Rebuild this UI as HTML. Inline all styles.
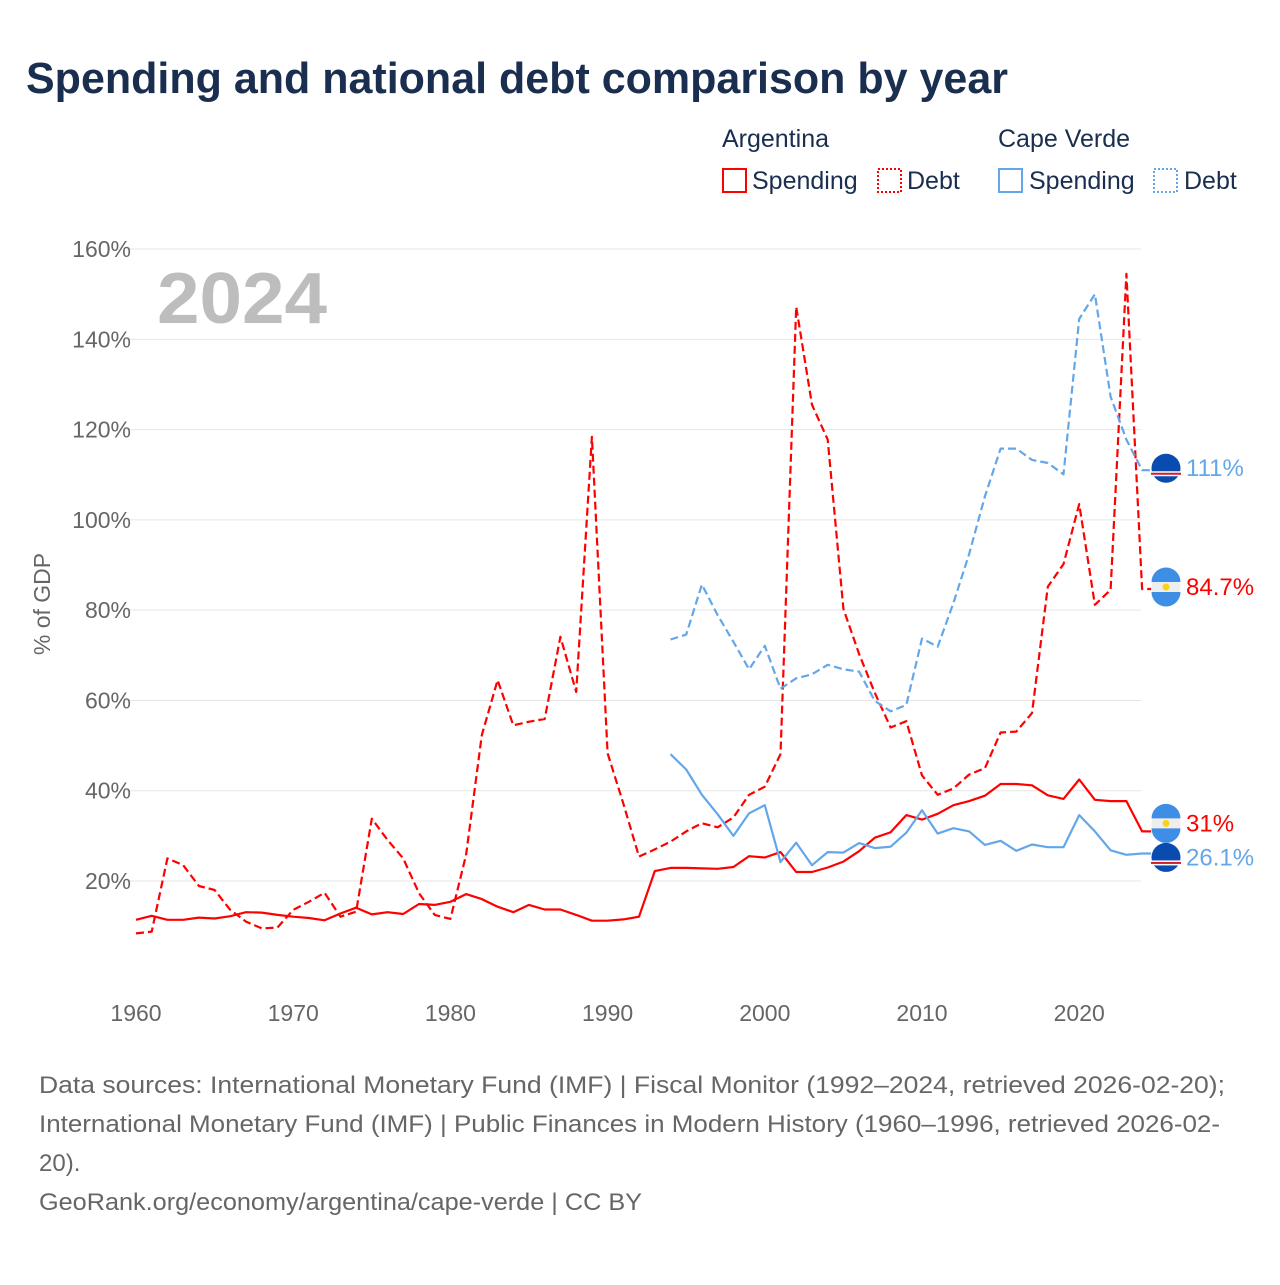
<!DOCTYPE html>
<html><head><meta charset="utf-8">
<style>
body{margin:0;background:#fff;font-family:"Liberation Sans",sans-serif;}
svg text{font-family:"Liberation Sans",sans-serif;}
</style></head>
<body>
<svg id="chart" width="1280" height="1280" xmlns="http://www.w3.org/2000/svg">
<rect width="1280" height="1280" fill="#fff"/>
<text x="26" y="93" font-size="44" font-weight="bold" fill="#1a2e4f" textLength="982" lengthAdjust="spacingAndGlyphs">Spending and national debt comparison by year</text>
<g font-size="25" fill="#1a2e4f">
<text x="722" y="147" fill="#1a2e4f">Argentina</text>
<text x="998" y="147" fill="#1a2e4f">Cape Verde</text>
<g><rect x="723" y="169" width="23" height="23" fill="none" stroke="#ff0000" stroke-width="2"/><text x="752" y="189" fill="#1a2e4f">Spending</text></g>
<g><rect x="878" y="169" width="23" height="23" fill="none" stroke="#ff0000" stroke-width="2" stroke-dasharray="2,2"/><text x="907" y="189" fill="#1a2e4f">Debt</text></g>
<g><rect x="999" y="169" width="23" height="23" fill="none" stroke="#63a7ea" stroke-width="2"/><text x="1029" y="189" fill="#1a2e4f">Spending</text></g>
<g><rect x="1154" y="169" width="23" height="23" fill="none" stroke="#63a7ea" stroke-width="2" stroke-dasharray="2,2"/><text x="1184" y="189" fill="#1a2e4f">Debt</text></g>
</g>
<g id="grid"></g>
<text x="157" y="323" font-size="72" font-weight="bold" fill="#bdbdbd" textLength="170" lengthAdjust="spacingAndGlyphs">2024</text>
<text transform="translate(50,604) rotate(-90)" text-anchor="middle" font-size="23" fill="#666">% of GDP</text>
<g id="series"></g>
<g id="endlabels"></g>
<g font-size="24" fill="#666">
<text x="39" y="1093" textLength="1186" lengthAdjust="spacingAndGlyphs">Data sources: International Monetary Fund (IMF) | Fiscal Monitor (1992–2024, retrieved 2026-02-20);</text>
<text x="39" y="1132" textLength="1181" lengthAdjust="spacingAndGlyphs">International Monetary Fund (IMF) | Public Finances in Modern History (1960–1996, retrieved 2026-02-</text>
<text x="39" y="1171">20).</text>
<text x="39" y="1210" textLength="603" lengthAdjust="spacingAndGlyphs">GeoRank.org/economy/argentina/cape-verde | CC BY</text>
</g>
</svg>
<script>
const yTicks=[20,40,60,80,100,120,140,160];
const xTicks=[1960,1970,1980,1990,2000,2010,2020];
const argYears=[];for(let y=1960;y<=2024;y++)argYears.push(y);
const cvYears=[];for(let y=1994;y<=2024;y++)cvYears.push(y);
const argSpending=[11.4,12.3,11.4,11.4,11.9,11.7,12.2,13.1,13.0,12.5,12.1,11.8,11.3,12.8,14.1,12.6,13.1,12.7,14.9,14.7,15.4,17.1,16.0,14.3,13.1,14.7,13.7,13.7,12.5,11.2,11.2,11.5,12.1,22.2,22.9,22.9,22.8,22.7,23.1,25.5,25.2,26.4,22.0,22.0,23.0,24.3,26.6,29.6,30.8,34.6,33.6,34.9,36.8,37.7,38.9,41.5,41.5,41.2,39.0,38.2,42.5,38.0,37.7,37.7,31.0];
const argDebt=[8.4,8.8,25.0,23.5,18.9,18.0,13.6,11.0,9.5,9.7,13.6,15.4,17.4,12.1,13.2,33.8,29.1,25.0,17.3,12.5,11.6,25.8,52.3,64.5,54.5,55.3,55.9,74.1,61.9,118.4,48.3,37.2,25.4,27.0,28.7,31.0,32.8,31.9,34.1,39.1,40.9,48.1,147.2,125.5,117.8,80.3,70.3,61.7,54.0,55.4,43.4,39.1,40.5,43.6,45.0,52.9,53.1,57.2,85.2,90.2,103.5,81.2,84.5,154.5,84.7];
const cvSpending=[48.1,44.7,39.1,34.8,30.0,35.0,36.8,24.2,28.5,23.5,26.4,26.3,28.4,27.3,27.6,30.7,35.7,30.5,31.7,31.0,28.0,28.9,26.7,28.1,27.5,27.5,34.6,31.0,26.8,25.8,26.1];
const cvDebt=[73.5,74.6,85.7,78.9,73.0,66.9,72.1,62.6,64.9,65.8,67.9,66.9,66.4,59.9,57.6,59.0,73.7,71.9,81.6,92.5,105.2,115.8,115.8,113.3,112.6,110.1,144.5,150.0,127.3,117.8,111.0];
const labelTexts=["111%","84.7%","31%","26.1%"];

const NS="http://www.w3.org/2000/svg";
const X0=136,XPY=15.72,Y0=971.3,YPU=4.514;
function xs(yr){return X0+(yr-1960)*XPY;}
function ys(v){return Y0-v*YPU;}
function mk(tag,attrs,parent){const e=document.createElementNS(NS,tag);for(const k in attrs)e.setAttribute(k,attrs[k]);parent.appendChild(e);return e;}
const grid=document.getElementById('grid');
yTicks.forEach(t=>{
  const l=mk('line',{x1:126,x2:1141,y1:ys(t),y2:ys(t),stroke:'#e6e6e6','stroke-width':1},grid);
  
  
  const tx=mk('text',{x:131,y:ys(t)+8,'text-anchor':'end','font-size':23,fill:'#666'},grid);
  tx.textContent=t+'%';
  
  
});
xTicks.forEach(t=>{
  const tx=mk('text',{x:xs(t),y:1021,'text-anchor':'middle','font-size':23,fill:'#666'},grid);
  tx.textContent=t;
  
  
});
const ser=document.getElementById('series');
function line(years,vals,color,dash,name){
  let d='';years.forEach((y,i)=>{d+=(i?'L':'M')+xs(y).toFixed(1)+','+ys(vals[i]).toFixed(1);});
  const lastY=ys(vals[vals.length-1]);
  d+='L'+(xs(years[years.length-1])+9).toFixed(1)+','+lastY.toFixed(1);
  const p=mk('path',{d:d,fill:'none',stroke:color,'stroke-width':2.2,'stroke-linejoin':'round'},ser);
  if(dash)p.setAttribute('stroke-dasharray','8,4');
  
  
}
line(argYears,argDebt,'#ff0000',true,'argentina-debt-line');
line(argYears,argSpending,'#ff0000',false,'argentina-spending-line');
line(cvYears,cvDebt,'#63a7ea',true,'cape-verde-debt-line');
line(cvYears,cvSpending,'#63a7ea',false,'cape-verde-spending-line');

const lab=[
 {v:cvDebt[cvDebt.length-1],c:'#63a7ea',f:'cv',n:'cape-verde-debt'},
 {v:argDebt[argDebt.length-1],c:'#ff0000',f:'ar',n:'argentina-debt'},
 {v:argSpending[argSpending.length-1],c:'#ff0000',f:'ar',n:'argentina-spending'},
 {v:cvSpending[cvSpending.length-1],c:'#63a7ea',f:'cv',n:'cape-verde-spending'}
];
lab.forEach((o,i)=>{o.y=ys(o.v);o.t=labelTexts[i];});
lab.sort((a,b)=>a.y-b.y);
for(let k=0;k<5;k++)for(let i=1;i<lab.length;i++){const gap=lab[i].y-lab[i-1].y;if(gap<34){const m=(lab[i].y+lab[i-1].y)/2;lab[i-1].y=m-17;lab[i].y=m+17;}}
const el=document.getElementById('endlabels');
lab.forEach(o=>{
  const g=mk('g',{},el);
  
  
  const cx=1166,cy=o.y-2;
  if(o.f==='cv'){
    mk('circle',{cx:cx,cy:cy,r:14.5,fill:'#0a4bb0'},g);
    mk('rect',{x:cx-15,y:cy+3,width:30,height:5,fill:'#fff'},g);
    mk('rect',{x:cx-15,y:cy+4.5,width:30,height:2,fill:'#cf2027'},g);
  }else{
    mk('circle',{cx:cx,cy:cy,r:14.5,fill:'#eeeeee'},g);
    mk('path',{d:`M${cx-14.5},${cy-5}A14.5,14.5 0 0 1 ${cx+14.5},${cy-5}Z`,fill:'#3e8ee6'},g);
    mk('path',{d:`M${cx-14.5},${cy+5}A14.5,14.5 0 0 0 ${cx+14.5},${cy+5}Z`,fill:'#3e8ee6'},g);
    mk('circle',{cx:cx,cy:cy,r:3.5,fill:'#fcd116'},g);
  }
  const t=mk('text',{x:1186,y:cy+8,'font-size':24,fill:o.c},g);
  t.textContent=o.t;
});
</script>
</body></html>
